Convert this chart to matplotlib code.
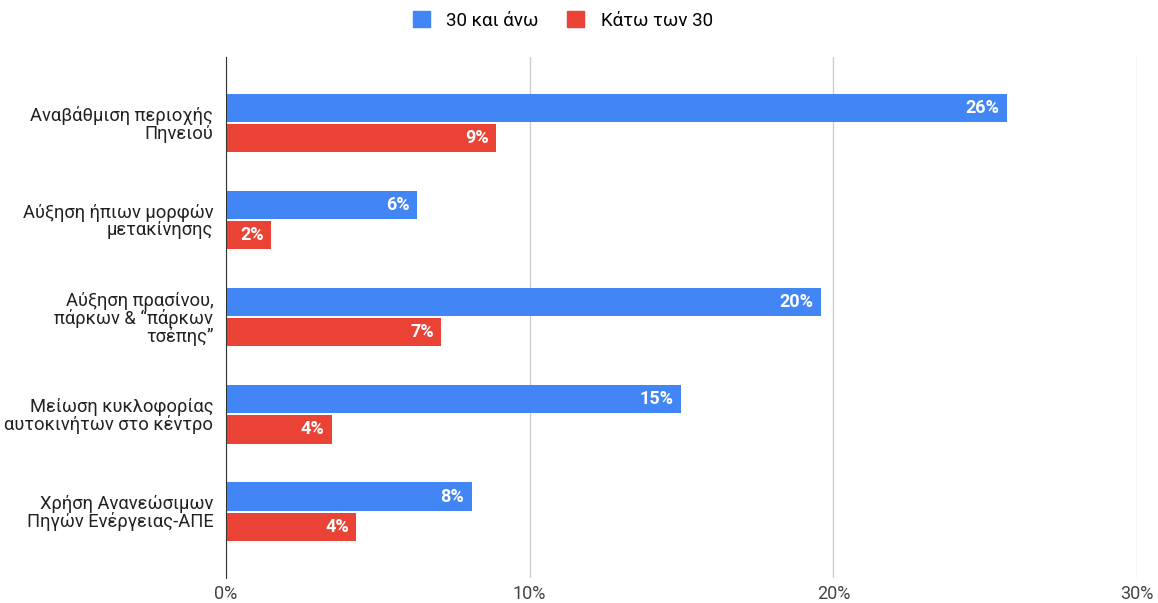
import numpy as np
import matplotlib.pyplot as plt
from matplotlib.patches import Patch

plt.rcParams['font.family'] = ['Roboto', 'DejaVu Sans']

categories = ['Αναβάθμιση περιοχής\nΠηνειού',
              'Αύξηση ήπιων μορφών\nμετακίνησης',
              'Αύξηση πρασίνου,\nπάρκων & “πάρκων\nτσέπης”',
              'Μείωση κυκλοφορίας\nαυτοκινήτων στο κέντρο',
              'Χρήση Ανανεώσιμων\nΠηγών Ενέργειας-ΑΠΕ']
over30 = [25.7, 6.3, 19.6, 15.0, 8.1]
under30 = [8.9, 1.5, 7.1, 3.5, 4.3]
series_names = ['30 και άνω', 'Κάτω των 30']
colors = ['#4285F4', '#EA4335']

fig = plt.figure(figsize=(11.58, 6.03), dpi=100)
ax = fig.add_axes([0.195, 0.042, 0.787, 0.864])

y = np.arange(len(categories))
h = 0.29
off = 0.155

for vals, dy, c in [(over30, -off, colors[0]), (under30, off, colors[1])]:
    bars = ax.barh(y + dy, vals, height=h, color=c, zorder=3)
    for b, v in zip(bars, vals):
        ax.text(v - 0.25, b.get_y() + h / 2, f'{round(v):.0f}%', color='white',
                fontsize=13, fontweight='bold', ha='right', va='center', zorder=4)

ax.set_ylim(len(categories) - 1 + 0.68, -0.68)
ax.set_xlim(0, 30)
ax.set_xticks([0, 10, 20, 30])
ax.set_xticklabels(['0%', '10%', '20%', '30%'], fontsize=13, color='#444444')
ax.set_yticks(y)
ax.set_yticklabels(categories, fontsize=13.2, color='#222222', linespacing=0.95)
ax.tick_params(length=0)
ax.tick_params(axis='x', pad=5)
ax.tick_params(axis='y', pad=9)

ax.grid(axis='x', color='#cccccc', lw=1, zorder=0)
for s in ['top', 'right', 'bottom']:
    ax.spines[s].set_visible(False)
ax.spines['left'].set_color('#333333')
ax.spines['left'].set_zorder(5)

handles = [Patch(color=c, label=n) for c, n in zip(colors, series_names)]
fig.legend(handles=handles, loc='center', bbox_to_anchor=(0.486, 0.966), ncol=2,
           frameon=False, fontsize=13.5, handlelength=0.9, handleheight=0.9,
           columnspacing=1.5, handletextpad=0.9)

plt.savefig('out.png', dpi=100)
